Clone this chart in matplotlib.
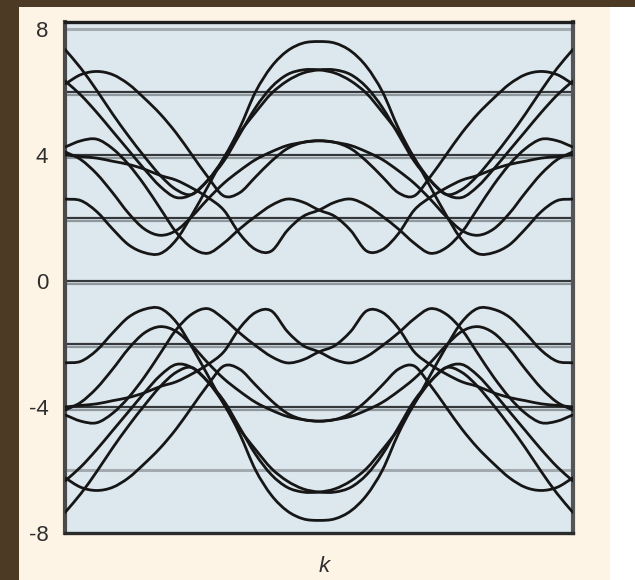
import numpy as np
import matplotlib
matplotlib.use("Agg")
import matplotlib.pyplot as plt
from matplotlib.patches import Rectangle, PathPatch
from matplotlib.path import Path

# Sampling grid along k (33 evenly spaced points across the zone shown)
k = np.linspace(-1.0, 1.0, 33)

# Conduction (upper) bands, energies in eV
band_a = [7.35, 6.75, 6.05, 5.3, 4.6, 3.95, 3.35, 2.9, 2.75, 3.2, 3.9, 4.85, 6.0, 6.8, 7.3, 7.55,
          7.6, 7.55, 7.3, 6.8, 6.0, 4.85, 3.9, 3.2, 2.75, 2.9, 3.35, 3.95, 4.6, 5.3, 6.05, 6.75, 7.35]
band_f = [4.25, 4.45, 4.5, 4.2, 3.7, 3.05, 2.3, 1.55, 1.05, 0.88, 1.2, 1.65, 2.05, 2.4, 2.6, 2.5,
          2.25, 2.05, 1.6, 0.95, 1.0, 1.5, 2.25, 2.65, 2.95, 3.2, 3.35, 3.55, 3.7, 3.8, 3.9, 3.95, 4.0]
band_f_m = [4.0, 3.95, 3.9, 3.8, 3.7, 3.55, 3.35, 3.2, 2.95, 2.65, 2.25, 1.5, 1.0, 0.95, 1.6, 2.05,
            2.25, 2.5, 2.6, 2.4, 2.05, 1.65, 1.2, 0.88, 1.05, 1.55, 2.3, 3.05, 3.7, 4.2, 4.5, 4.45, 4.25]
band_l = [2.6, 2.55, 2.2, 1.65, 1.15, 0.9, 0.87, 1.3, 2.1, 3.0, 3.9, 4.7, 5.35, 5.95, 6.35, 6.6,
          6.7, 6.7, 6.55, 6.15, 5.5, 4.65, 3.8, 3.2, 2.75, 2.65, 3.0, 3.55, 4.15, 4.75, 5.35, 5.9, 6.35]
band_l_m = [6.35, 5.9, 5.35, 4.75, 4.15, 3.55, 3.0, 2.65, 2.75, 3.2, 3.8, 4.65, 5.5, 6.15, 6.55, 6.7,
            6.7, 6.6, 6.35, 5.95, 5.35, 4.7, 3.9, 3.0, 2.1, 1.3, 0.87, 0.9, 1.15, 1.65, 2.2, 2.55, 2.6]
band_g = [4.1, 3.85, 3.4, 2.8, 2.15, 1.65, 1.45, 1.6, 2.05, 2.6, 3.1, 3.5, 3.85, 4.1, 4.3, 4.4,
          4.45, 4.4, 4.2, 3.8, 3.3, 2.8, 2.7, 3.3, 4.0, 4.7, 5.3, 5.8, 6.25, 6.55, 6.65, 6.55, 6.25]
band_g_m = [6.25, 6.55, 6.65, 6.55, 6.25, 5.8, 5.3, 4.7, 4.0, 3.3, 2.7, 2.8, 3.3, 3.8, 4.2, 4.4,
            4.45, 4.4, 4.3, 4.1, 3.85, 3.5, 3.1, 2.6, 2.05, 1.6, 1.45, 1.65, 2.15, 2.8, 3.4, 3.85, 4.1]

# Valence (lower) bands, mirror images of the conduction bands
vband_a = [-7.35, -6.75, -6.05, -5.3, -4.6, -3.95, -3.35, -2.9, -2.75, -3.2, -3.9, -4.85, -6.0, -6.8, -7.3, -7.55,
           -7.6, -7.55, -7.3, -6.8, -6.0, -4.85, -3.9, -3.2, -2.75, -2.9, -3.35, -3.95, -4.6, -5.3, -6.05, -6.75, -7.35]
vband_f = [-4.25, -4.45, -4.5, -4.2, -3.7, -3.05, -2.3, -1.55, -1.05, -0.88, -1.2, -1.65, -2.05, -2.4, -2.6, -2.5,
           -2.25, -2.05, -1.6, -0.95, -1.0, -1.5, -2.25, -2.65, -2.95, -3.2, -3.35, -3.55, -3.7, -3.8, -3.9, -3.95, -4.0]
vband_f_m = [-4.0, -3.95, -3.9, -3.8, -3.7, -3.55, -3.35, -3.2, -2.95, -2.65, -2.25, -1.5, -1.0, -0.95, -1.6, -2.05,
             -2.25, -2.5, -2.6, -2.4, -2.05, -1.65, -1.2, -0.88, -1.05, -1.55, -2.3, -3.05, -3.7, -4.2, -4.5, -4.45, -4.25]
vband_l = [-2.6, -2.55, -2.2, -1.65, -1.15, -0.9, -0.87, -1.3, -2.1, -3.0, -3.9, -4.7, -5.35, -5.95, -6.35, -6.6,
           -6.7, -6.7, -6.55, -6.15, -5.5, -4.65, -3.8, -3.2, -2.75, -2.65, -3.0, -3.55, -4.15, -4.75, -5.35, -5.9, -6.35]
vband_l_m = [-6.35, -5.9, -5.35, -4.75, -4.15, -3.55, -3.0, -2.65, -2.75, -3.2, -3.8, -4.65, -5.5, -6.15, -6.55, -6.7,
             -6.7, -6.6, -6.35, -5.95, -5.35, -4.7, -3.9, -3.0, -2.1, -1.3, -0.87, -0.9, -1.15, -1.65, -2.2, -2.55, -2.6]
vband_g = [-4.1, -3.85, -3.4, -2.8, -2.15, -1.65, -1.45, -1.6, -2.05, -2.6, -3.1, -3.5, -3.85, -4.1, -4.3, -4.4,
           -4.45, -4.4, -4.2, -3.8, -3.3, -2.8, -2.7, -3.3, -4.0, -4.7, -5.3, -5.8, -6.25, -6.55, -6.65, -6.55, -6.25]
vband_g_m = [-6.25, -6.55, -6.65, -6.55, -6.25, -5.8, -5.3, -4.7, -4.0, -3.3, -2.7, -2.8, -3.3, -3.8, -4.2, -4.4,
             -4.45, -4.4, -4.3, -4.1, -3.85, -3.5, -3.1, -2.6, -2.05, -1.6, -1.45, -1.65, -2.15, -2.8, -3.4, -3.85, -4.1]

# Horizontal reference levels
dark_levels = [6, 4, 2, 0, -2, -4]
light_levels = [8, -6, -8]

tick_values = [8, 4, 0, -4, -8]
tick_labels = ["8", "4", "0", "-4", "-8"]
x_label = "k"

bands = [band_a, band_f, band_f_m, band_l, band_l_m, band_g, band_g_m,
         vband_a, vband_f, vband_f_m, vband_l, vband_l_m, vband_g, vband_g_m]


def smooth_band_path(xs, ys):
    """Cubic Bezier path passing through every sample (Catmull-Rom tangents)."""
    pts = np.column_stack([xs, ys]).astype(float)
    padded = np.vstack([2 * pts[0] - pts[1], pts, 2 * pts[-1] - pts[-2]])
    verts = [pts[0]]
    codes = [Path.MOVETO]
    for i in range(len(pts) - 1):
        p0, p1, p2, p3 = padded[i], padded[i + 1], padded[i + 2], padded[i + 3]
        verts += [p1 + (p2 - p0) / 6.0, p2 - (p3 - p1) / 6.0, p2]
        codes += [Path.CURVE4] * 3
    return Path(verts, codes)


W, H = 635, 580
fig = plt.figure(figsize=(W / 100, H / 100), dpi=100)
fig.patch.set_facecolor("white")

# Page decoration: brown border strips and cream panel
brown = "#4c3a25"
cream = "#fdf4e6"
fig.add_artist(Rectangle((19 / W, 0), (610 - 19) / W, 1 - 7 / H, transform=fig.transFigure,
                         facecolor=cream, edgecolor="none", zorder=0))
fig.add_artist(Rectangle((0, 0), 19 / W, 1, transform=fig.transFigure,
                         facecolor=brown, edgecolor="none", zorder=0))
fig.add_artist(Rectangle((0, 1 - 7 / H), 1, 7 / H, transform=fig.transFigure,
                         facecolor=brown, edgecolor="none", zorder=0))

ax = fig.add_axes([65 / W, 1 - 533 / H, (573 - 65) / W, (533 - 22) / H])
ax.set_facecolor("#dde8ee")
ax.set_xlim(k[0], k[-1])
ax.set_ylim(-8.0, 8.22)

for lv in dark_levels:
    ax.axhline(lv - 0.09, color="#8f989d", lw=1.6, zorder=1)
    ax.axhline(lv, color="#34383b", lw=1.6, zorder=1.1)
for lv in light_levels:
    ax.axhline(lv, color="#a3abb0", lw=2.2, zorder=1)

for b in bands:
    patch = PathPatch(smooth_band_path(k, b), facecolor="none", edgecolor="#161616",
                      lw=2.0, joinstyle="round", capstyle="round", zorder=3)
    patch.set_clip_on(True)
    ax.add_patch(patch)

ax.set_xticks([])
ax.set_yticks(tick_values)
ax.set_yticklabels(tick_labels, fontsize=16, family="Liberation Sans", color="#2e2e2e")
ax.tick_params(axis="y", length=0, pad=12)

ax.spines["left"].set_color("#4a4a4a")
ax.spines["left"].set_linewidth(3.0)
ax.spines["right"].set_color("#555555")
ax.spines["right"].set_linewidth(3.0)
ax.spines["top"].set_color("#1e1e1e")
ax.spines["top"].set_linewidth(2.4)
ax.spines["bottom"].set_color("#2a2a2a")
ax.spines["bottom"].set_linewidth(2.4)

fig.text(324 / W, 1 - 566 / H, x_label, fontsize=16, style="italic",
         family="Liberation Sans", color="#2e2e2e", ha="center", va="center")

fig.savefig("out.png", dpi=100, facecolor=fig.get_facecolor())
